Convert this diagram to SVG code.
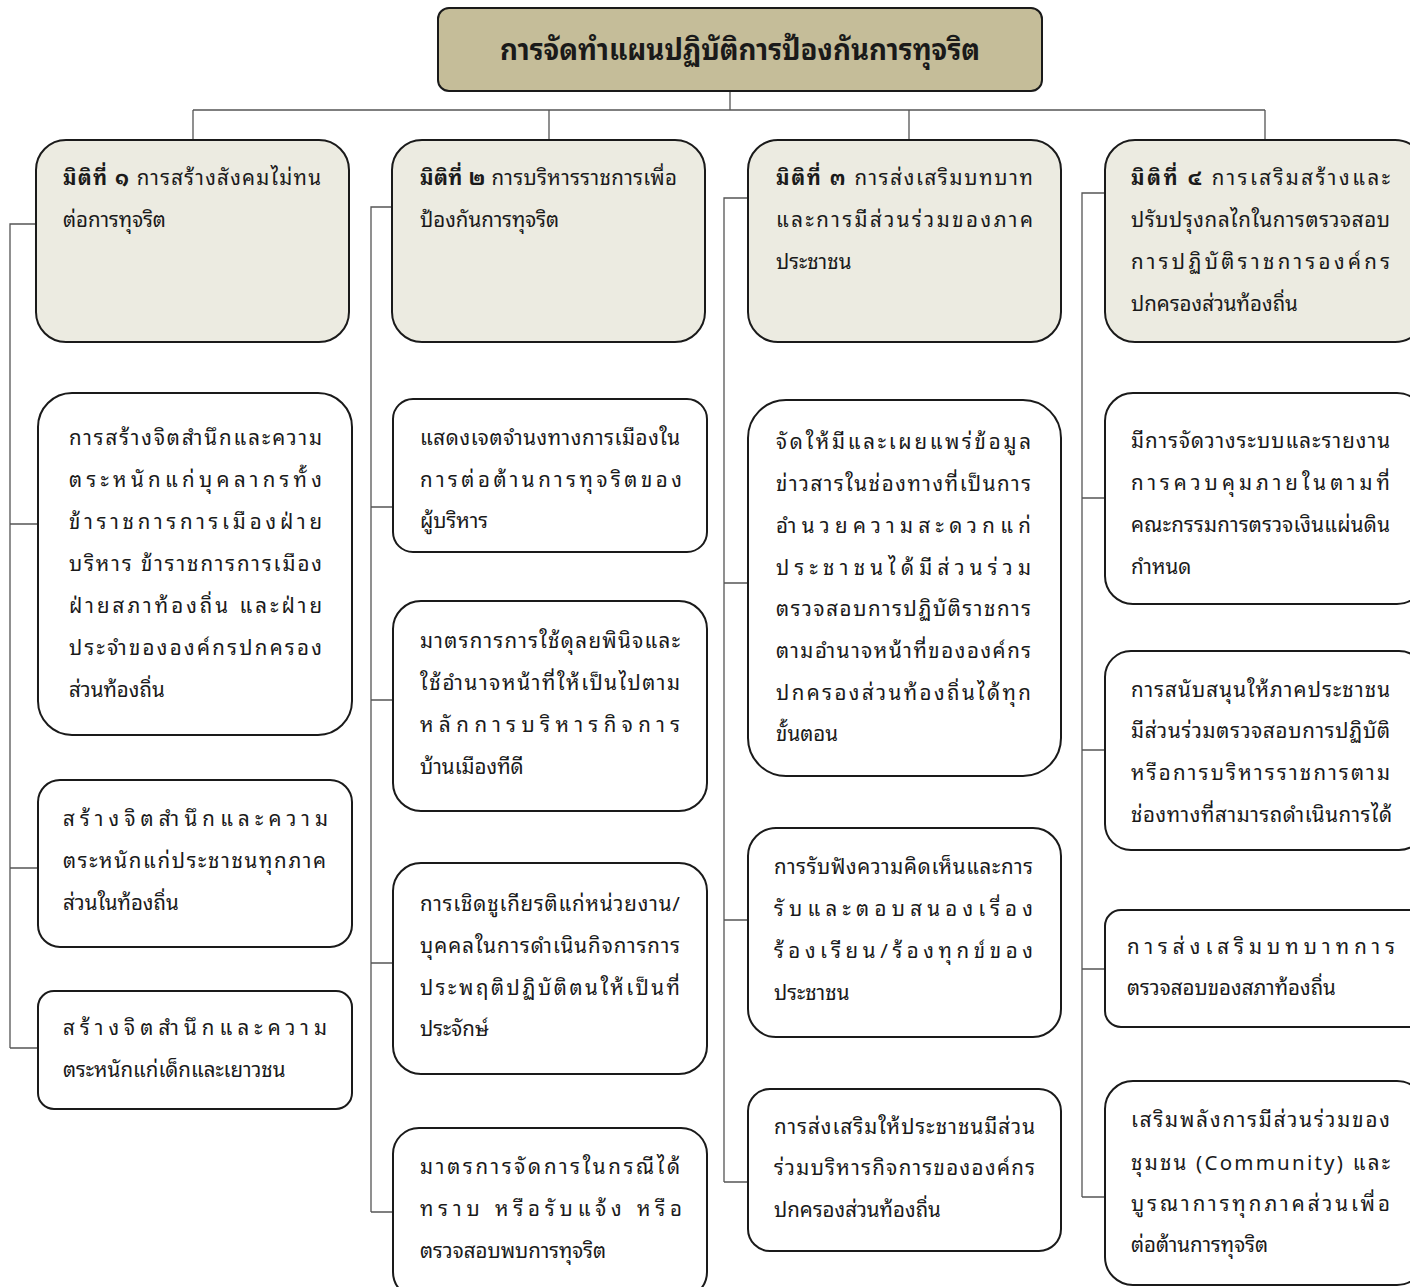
<svg xmlns="http://www.w3.org/2000/svg" width="1410" height="1287" viewBox="0 0 1410 1287">
<style>
.bg{fill:#ffffff}
.title{fill:#c5bd99;stroke:#1a1a1a;stroke-width:2}
.dim{fill:#ecebe1;stroke:#1a1a1a;stroke-width:2}
.item{fill:#ffffff;stroke:#1a1a1a;stroke-width:2}
.conn{fill:none;stroke:#555555;stroke-width:1.3}
text{font-family:"Noto Sans Thai Looped","Loma","Garuda","Norasi","Noto Sans Thai","Noto Sans","DejaVu Sans",sans-serif;fill:#1a1a1a}
.tt{font-size:30px;font-weight:bold}
.dt{font-size:20.5px}
.it{font-size:20.5px}
.b{font-weight:bold}
</style>
<rect class="bg" x="0" y="0" width="1410" height="1287"/>

<g id="connectors">
<path class="conn" d="M730,91 V110 M193,110 H1265 M193,110 V140 M549,110 V140 M909,110 V140 M1265,110 V140"/>
<path class="conn" d="M36,224 H10 V1048 M10,524 H38 M10,868 H38 M10,1048 H38"/>
<path class="conn" d="M392,207 H371 V1212 M371,507 H393 M371,700 H393 M371,963 H393 M371,1212 H393"/>
<path class="conn" d="M748,198 H724 V1182 M724,583 H748 M724,920 H748 M724,1182 H748"/>
<path class="conn" d="M1105,193 H1082 V1197 M1082,498 H1105 M1082,750 H1105 M1082,969 H1105 M1082,1197 H1105"/>
</g>

<g id="root">
<rect class="title" x="438" y="8" width="604" height="83" rx="11"/>
<text class="tt" x="740" y="60" text-anchor="middle" textLength="480" lengthAdjust="spacingAndGlyphs">การจัดทำแผนปฏิบัติการป้องกันการทุจริต</text>
</g>

<g id="dim1">
<rect class="dim" x="36" y="140" width="313" height="202" rx="30"/>
<text class="dt" x="63" y="185" textLength="258"><tspan class="b">มิติที่ ๑</tspan> การสร้างสังคมไม่ทน</text>
<text class="dt" x="63" y="227">ต่อการทุจริต</text>
</g>
<g id="dim2">
<rect class="dim" x="392" y="140" width="313" height="202" rx="30"/>
<text class="dt" x="420" y="185" textLength="257"><tspan class="b">มิติที่ ๒</tspan> การบริหารราชการเพื่อ</text>
<text class="dt" x="420" y="227">ป้องกันการทุจริต</text>
</g>
<g id="dim3">
<rect class="dim" x="748" y="140" width="313" height="202" rx="30"/>
<text class="dt" x="776" y="185" textLength="257"><tspan class="b">มิติที่ ๓</tspan> การส่งเสริมบทบาท</text>
<text class="dt" x="776" y="227" textLength="257">และการมีส่วนร่วมของภาค</text>
<text class="dt" x="776" y="269">ประชาชน</text>
</g>
<g id="dim4">
<rect class="dim" x="1105" y="140" width="320" height="202" rx="30"/>
<text class="dt" x="1131" y="185" textLength="259"><tspan class="b">มิติที่ ๔</tspan> การเสริมสร้างและ</text>
<text class="dt" x="1131" y="227" textLength="259">ปรับปรุงกลไกในการตรวจสอบ</text>
<text class="dt" x="1131" y="269" textLength="259">การปฏิบัติราชการองค์กร</text>
<text class="dt" x="1131" y="311">ปกครองส่วนท้องถิ่น</text>
</g>

<g id="c1a">
<rect class="item" x="38" y="393" width="314" height="342" rx="34"/>
<text class="it" x="69" y="445" textLength="253">การสร้างจิตสำนึกและความ</text>
<text class="it" x="69" y="487" textLength="253">ตระหนักแก่บุคลากรทั้ง</text>
<text class="it" x="69" y="529" textLength="253">ข้าราชการการเมืองฝ่าย</text>
<text class="it" x="69" y="571" textLength="253">บริหาร ข้าราชการการเมือง</text>
<text class="it" x="69" y="613" textLength="253">ฝ่ายสภาท้องถิ่น และฝ่าย</text>
<text class="it" x="69" y="655" textLength="253">ประจำขององค์กรปกครอง</text>
<text class="it" x="69" y="697">ส่วนท้องถิ่น</text>
</g>
<g id="c1b">
<rect class="item" x="38" y="780" width="314" height="167" rx="22"/>
<text class="it" x="63" y="826" textLength="265">สร้างจิตสำนึกและความ</text>
<text class="it" x="63" y="868" textLength="263">ตระหนักแก่ประชาชนทุกภาค</text>
<text class="it" x="63" y="910">ส่วนในท้องถิ่น</text>
</g>
<g id="c1c">
<rect class="item" x="38" y="991" width="314" height="118" rx="16"/>
<text class="it" x="63" y="1035" textLength="264">สร้างจิตสำนึกและความ</text>
<text class="it" x="63" y="1077">ตระหนักแก่เด็กและเยาวชน</text>
</g>

<g id="c2a">
<rect class="item" x="393" y="399" width="314" height="153" rx="20"/>
<text class="it" x="420" y="445" textLength="260">แสดงเจตจำนงทางการเมืองใน</text>
<text class="it" x="420" y="487" textLength="262">การต่อต้านการทุจริตของ</text>
<text class="it" x="420" y="528">ผู้บริหาร</text>
</g>
<g id="c2b">
<rect class="item" x="393" y="601" width="314" height="210" rx="28"/>
<text class="it" x="420" y="648" textLength="260">มาตรการการใช้ดุลยพินิจและ</text>
<text class="it" x="420" y="690" textLength="260">ใช้อำนาจหน้าที่ให้เป็นไปตาม</text>
<text class="it" x="420" y="732" textLength="260">หลักการบริหารกิจการ</text>
<text class="it" x="420" y="774">บ้านเมืองทีดี</text>
</g>
<g id="c2c">
<rect class="item" x="393" y="863" width="314" height="211" rx="28"/>
<text class="it" x="420" y="911" textLength="260">การเชิดชูเกียรติแก่หน่วยงาน/</text>
<text class="it" x="420" y="953" textLength="260">บุคคลในการดำเนินกิจการการ</text>
<text class="it" x="420" y="995" textLength="260">ประพฤติปฏิบัติตนให้เป็นที่</text>
<text class="it" x="420" y="1036">ประจักษ์</text>
</g>
<g id="c2d">
<rect class="item" x="393" y="1128" width="314" height="170" rx="26"/>
<text class="it" x="420" y="1174" textLength="260">มาตรการจัดการในกรณีได้</text>
<text class="it" x="420" y="1216" textLength="262">ทราบ หรือรับแจ้ง หรือ</text>
<text class="it" x="420" y="1258">ตรวจสอบพบการทุจริต</text>
</g>

<g id="c3a">
<rect class="item" x="748" y="400" width="313" height="376" rx="38"/>
<text class="it" x="776" y="449" textLength="255">จัดให้มีและเผยแพร่ข้อมูล</text>
<text class="it" x="776" y="491" textLength="255">ข่าวสารในช่องทางที่เป็นการ</text>
<text class="it" x="776" y="533" textLength="255">อำนวยความสะดวกแก่</text>
<text class="it" x="776" y="575" textLength="255">ประชาชนได้มีส่วนร่วม</text>
<text class="it" x="776" y="616" textLength="255">ตรวจสอบการปฏิบัติราชการ</text>
<text class="it" x="776" y="658" textLength="255">ตามอำนาจหน้าที่ขององค์กร</text>
<text class="it" x="776" y="700" textLength="255">ปกครองส่วนท้องถิ่นได้ทุก</text>
<text class="it" x="776" y="741">ขั้นตอน</text>
</g>
<g id="c3b">
<rect class="item" x="748" y="828" width="313" height="209" rx="28"/>
<text class="it" x="774" y="874" textLength="259">การรับฟังความคิดเห็นและการ</text>
<text class="it" x="774" y="916" textLength="259">รับและตอบสนองเรื่อง</text>
<text class="it" x="774" y="958" textLength="259">ร้องเรียน/ร้องทุกข์ของ</text>
<text class="it" x="774" y="1000">ประชาชน</text>
</g>
<g id="c3c">
<rect class="item" x="748" y="1089" width="313" height="162" rx="22"/>
<text class="it" x="774" y="1134" textLength="261">การส่งเสริมให้ประชาชนมีส่วน</text>
<text class="it" x="774" y="1175" textLength="261">ร่วมบริหารกิจการขององค์กร</text>
<text class="it" x="774" y="1217">ปกครองส่วนท้องถิ่น</text>
</g>

<g id="c4a">
<rect class="item" x="1105" y="393" width="320" height="211" rx="28"/>
<text class="it" x="1131" y="448" textLength="259">มีการจัดวางระบบและรายงาน</text>
<text class="it" x="1131" y="490" textLength="259">การควบคุมภายในตามที่</text>
<text class="it" x="1131" y="532" textLength="259">คณะกรรมการตรวจเงินแผ่นดิน</text>
<text class="it" x="1131" y="574">กำหนด</text>
</g>
<g id="c4b">
<rect class="item" x="1105" y="651" width="320" height="199" rx="26"/>
<text class="it" x="1131" y="697" textLength="259">การสนับสนุนให้ภาคประชาชน</text>
<text class="it" x="1131" y="738" textLength="259">มีส่วนร่วมตรวจสอบการปฏิบัติ</text>
<text class="it" x="1131" y="780" textLength="259">หรือการบริหารราชการตาม</text>
<text class="it" x="1131" y="822" textLength="261">ช่องทางที่สามารถดำเนินการได้</text>
</g>
<g id="c4c">
<rect class="item" x="1105" y="910" width="320" height="117" rx="16"/>
<text class="it" x="1127" y="954" textLength="268">การส่งเสริมบทบาทการ</text>
<text class="it" x="1127" y="995">ตรวจสอบของสภาท้องถิ่น</text>
</g>
<g id="c4d">
<rect class="item" x="1105" y="1081" width="320" height="204" rx="28"/>
<text class="it" x="1131" y="1127" textLength="259">เสริมพลังการมีส่วนร่วมของ</text>
<text class="it" x="1131" y="1170" textLength="259">ชุมชน (Community) และ</text>
<text class="it" x="1131" y="1211" textLength="259">บูรณาการทุกภาคส่วนเพื่อ</text>
<text class="it" x="1131" y="1252">ต่อต้านการทุจริต</text>
</g>
</svg>
